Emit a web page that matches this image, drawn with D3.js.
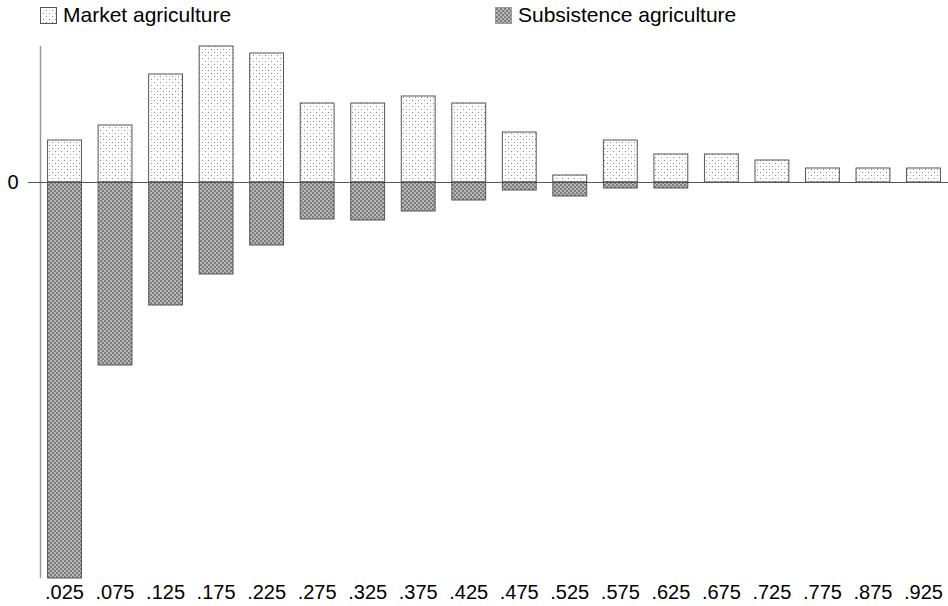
<!DOCTYPE html>
<html><head><meta charset="utf-8">
<script src="https://cdn.jsdelivr.net/npm/d3@7"></script>
<style>body{margin:0;background:#fff}svg{display:block}text{font-family:"Liberation Sans",Arial,sans-serif;fill:#000}</style>
</head><body>
<script>
const categories = [".025",".075",".125",".175",".225",".275",".325",".375",".425",".475",".525",".575",".625",".675",".725",".775",".875",".925"];
const marketValues = [0.42,0.57,1.08,1.36,1.29,0.79,0.79,0.86,0.79,0.50,0.07,0.42,0.28,0.28,0.22,0.14,0.14,0.14];
const subsistenceValues = [-3.96,-1.83,-1.23,-0.92,-0.63,-0.37,-0.38,-0.29,-0.18,-0.08,-0.14,-0.06,-0.06,0,0,0,0,0];
const seriesNames = ["Market agriculture","Subsistence agriculture"];
const yTickValues = [0];

const W = 948, H = 606;
const svg = d3.select("body").append("svg").attr("width", W).attr("height", H);
const defs = svg.append("defs");

const pm = defs.append("pattern").attr("id","dots").attr("patternUnits","userSpaceOnUse").attr("width",6).attr("height",6);
pm.append("rect").attr("width",6).attr("height",6).attr("fill","#fff");
pm.append("rect").attr("x",1).attr("y",1).attr("width",1).attr("height",1).attr("fill","#888");
pm.append("rect").attr("x",4).attr("y",4).attr("width",1).attr("height",1).attr("fill","#888");
pm.append("rect").attr("x",4).attr("y",1).attr("width",1).attr("height",1).attr("fill","#ddd");
pm.append("rect").attr("x",1).attr("y",4).attr("width",1).attr("height",1).attr("fill","#ddd");

const ps = defs.append("pattern").attr("id","check").attr("patternUnits","userSpaceOnUse").attr("width",4).attr("height",4);
ps.append("rect").attr("width",4).attr("height",4).attr("fill","#b8b8b8");
ps.append("rect").attr("x",0).attr("y",0).attr("width",2).attr("height",2).attr("fill","#7c7c7c");
ps.append("rect").attr("x",2).attr("y",2).attr("width",2).attr("height",2).attr("fill","#7c7c7c");

const x = d3.scaleBand().domain(categories).range([40, 948]).paddingInner(0.33).paddingOuter(0.15);
const y = d3.scaleLinear().domain([-3.96, 1.36]).range([578, 46]);

// y axis line
svg.append("line").attr("x1",40.5).attr("x2",40.5).attr("y1",y(1.36)).attr("y2",y(-3.96)).attr("stroke","#999").attr("stroke-width",1.5);

// bars
svg.append("g").selectAll("rect").data(categories).join("rect")
  .attr("x", d => x(d)).attr("width", x.bandwidth())
  .attr("y", (d,i) => y(marketValues[i])).attr("height", (d,i) => y(0) - y(marketValues[i]))
  .attr("fill","url(#dots)").attr("stroke","#555").attr("stroke-width",1)
  .attr("display",(d,i)=> marketValues[i]===0?"none":null);
svg.append("g").selectAll("rect").data(categories).join("rect")
  .attr("x", d => x(d)).attr("width", x.bandwidth())
  .attr("y", y(0)).attr("height", (d,i) => y(subsistenceValues[i]) - y(0))
  .attr("fill","url(#check)").attr("stroke","#555").attr("stroke-width",1)
  .attr("display",(d,i)=> subsistenceValues[i]===0?"none":null);

// zero line and tick
svg.append("line").attr("x1",28).attr("x2",W).attr("y1",Math.round(y(0))+0.5).attr("y2",Math.round(y(0))+0.5).attr("stroke","#555").attr("stroke-width",1);
svg.selectAll("text.yt").data(yTickValues).join("text").attr("class","yt")
  .attr("x",13).attr("y",d=>y(d)+7).attr("text-anchor","middle").attr("font-size",20).text(d=>d);

// x tick labels
svg.selectAll("text.xt").data(categories).join("text").attr("class","xt")
  .attr("x", d => x(d) + x.bandwidth()/2).attr("y", 599).attr("text-anchor","middle").attr("font-size",20).text(d=>d);

// legend
const legX = [40, 495];
const legFill = ["url(#dots)","url(#check)"];
seriesNames.forEach((n,i)=>{
  svg.append("rect").attr("x",legX[i]+0.5).attr("y",7.5).attr("width",16).attr("height",16).attr("fill",legFill[i]).attr("stroke", i===0?"#555":"#999").attr("stroke-width",1);
  svg.append("text").attr("x",legX[i]+23).attr("y",22).attr("font-size",21).text(n);
});
</script>
</body></html>
